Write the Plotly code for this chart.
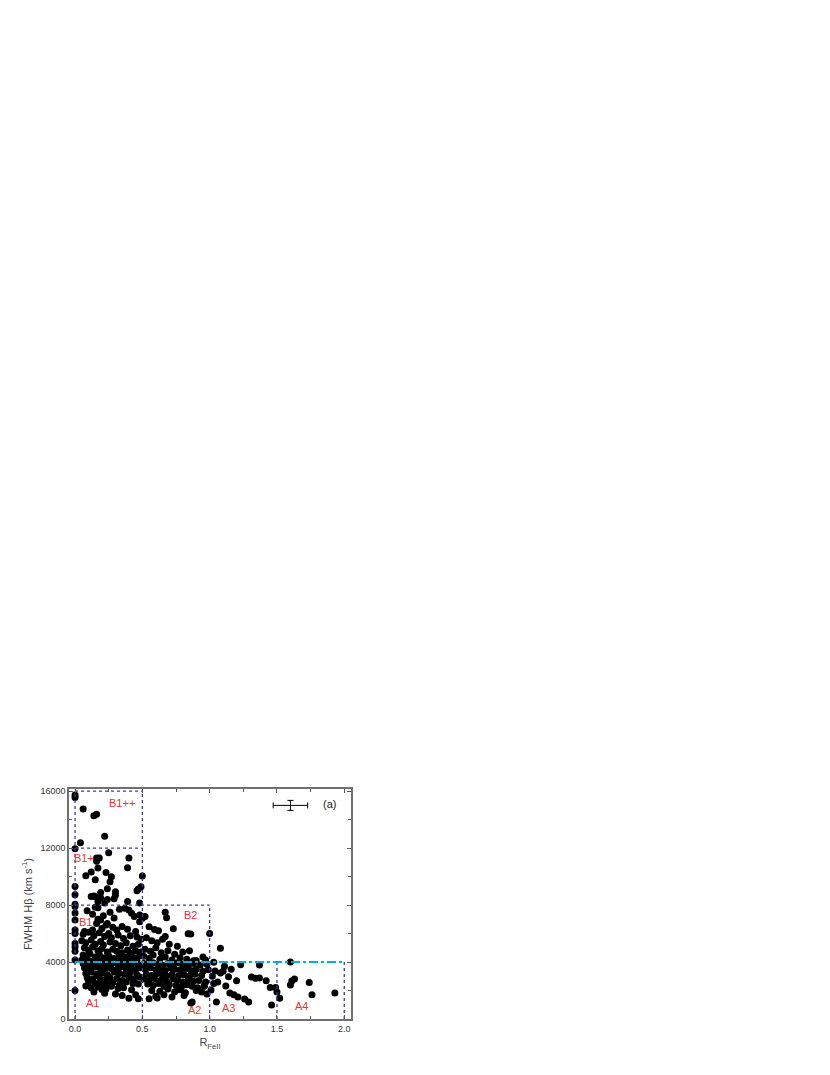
import plotly.graph_objects as go

# ---- data ----
# upper region (FWHM > 8000)
up_r = [0.00,0.00,0.06,0.14,0.16,0.04,0.22,0.00,0.25,0.16,0.18,0.16,0.40,0.17,0.12,0.23,0.39,0.08,0.27,0.50,0.15,0.26,0.00,0.49,0.47,0.46,0.24,0.19,0.30,0.30,0.29,0.00,0.12,0.15,0.19,0.24,0.00,0.14,0.17,0.22,0.39,0.48]
up_f = [15720,15550,14740,14270,14380,12370,12840,11950,11670,11300,11300,11070,11300,10600,10320,10290,10620,10060,9990,10040,9780,9640,9310,9290,9120,9000,9150,8890,8930,8690,8450,8720,8610,8590,8510,8390,8050,8630,8250,8150,8250,8150]

b1_r = [0.00,0.00,0.00,0.00,0.00,0.00,0.00,0.00,0.00,
        0.15,0.33,0.37,0.40,0.42,0.44,0.48,0.50,0.52,0.48,
        0.09,0.13,0.17,0.21,0.26,0.29,0.17,0.19,0.24,
        0.07,0.13,0.16,0.20,0.23,0.28,0.31,0.35,0.39,0.45,
        0.06,0.10,0.14,0.18,0.22,0.25,0.27,0.32,0.36,0.41,0.46,0.49,
        0.05,0.08,0.12,0.15,0.19,0.21,0.26,0.30,0.34,0.38,0.43,0.47,
        0.07,0.10,0.13,0.17,0.20,0.24,0.28,0.31,0.35,0.39,0.42,0.45,0.49,
        0.06,0.09,0.11,0.15,0.18,0.22,0.25,0.29,0.33,0.37,0.40,0.44,0.48,
        0.05,0.08,0.12,0.16,0.20,0.23,0.27,0.32,0.36,0.41,0.46]
b1_f = [7900,7450,6950,6250,6000,5300,5050,4750,4150,
        7840,7700,7770,7650,7420,7190,7300,7070,7190,6830,
        7600,7350,7820,7250,7500,7100,7000,6950,6700,
        6150,6250,6700,6350,6600,6450,6250,6500,6300,6150,
        5950,6100,5850,6050,5800,6000,5700,5900,5650,5850,5750,5600,
        5500,5350,5550,5250,5450,5200,5400,5300,5150,5350,5100,5250,
        5000,4850,5050,4800,4950,4700,4900,4750,4650,4850,4600,4800,4700,
        4500,4400,4600,4350,4550,4300,4450,4250,4500,4350,4400,4300,4450,
        4150,4200,4050,4250,4100,4150,4050,4200,4100,4050,4150]

a1_r = [0.00,0.08,0.20,0.20,0.40,0.47,
        0.06,0.10,0.14,0.17,0.21,0.25,0.28,0.32,0.36,0.39,0.43,0.47,
        0.07,0.11,0.15,0.19,0.23,0.27,0.30,0.34,0.38,0.42,0.45,0.49,
        0.08,0.12,0.16,0.21,0.24,0.29,0.33,0.37,0.41,0.46,
        0.09,0.13,0.18,0.22,0.26,0.31,0.35,0.40,0.44,0.48,
        0.10,0.15,0.19,0.24,0.28,0.33,0.38,0.43,0.47,
        0.12,0.17,0.23,0.27,0.32,0.36,0.42,
        0.14,0.22,0.30,0.35,0.45]
a1_f = [2000,2320,2080,2320,1450,1420,
        3900,3850,3950,3800,3900,3850,3950,3800,3900,3850,3950,3800,
        3600,3500,3650,3450,3600,3550,3400,3650,3500,3550,3450,3600,
        3200,3300,3150,3250,3100,3300,3200,3150,3250,3100,
        2900,2800,2950,2750,2900,2850,2700,2900,2800,2950,
        2600,2500,2650,2450,2550,2400,2600,2500,2450,
        2200,2250,2100,2300,2150,2200,2050,
        1900,1800,1750,1650,1700]

b2_r = [0.67,0.68,0.59,0.73,0.84,0.86,1.00,0.85,0.95,0.88,0.55,0.62,0.67,
        0.53,0.57,0.61,0.65,0.70,0.76,
        0.52,0.56,0.60,0.64,0.69,0.74,0.80,
        0.51,0.55,0.58,0.63,0.67,0.72,0.78,0.83,0.90,0.97]
b2_f = [7490,7110,6290,6340,5990,5960,6010,4800,4350,4090,6470,6200,5800,
        5700,5500,5350,5600,5250,5100,
        4900,4750,5000,4650,4800,4550,4700,
        4400,4250,4500,4200,4350,4150,4300,4200,4100,4150]

a2_r = [0.87,0.86,0.55,0.61,0.96,
        0.51,0.54,0.58,0.62,0.65,0.69,0.72,0.76,0.80,0.84,0.88,0.93,0.98,
        0.52,0.56,0.60,0.63,0.67,0.71,0.74,0.78,0.82,0.86,0.90,0.95,0.99,
        0.53,0.57,0.61,0.65,0.68,0.72,0.77,0.81,0.85,0.89,0.94,
        0.51,0.55,0.59,0.64,0.68,0.73,0.76,0.80,0.84,0.88,0.92,0.97,
        0.54,0.58,0.62,0.66,0.70,0.75,0.79,0.83,0.87,0.91,0.96,
        0.57,0.63,0.69,0.74,0.78,0.82,0.90,0.94,
        0.60,0.66,0.72,0.81,0.98]
a2_f = [1190,1120,1420,1480,2300,
        3900,3800,3950,3850,3750,3900,3800,3950,3850,3750,3900,3800,3850,
        3500,3600,3450,3550,3400,3600,3500,3450,3550,3400,3500,3350,3450,
        3150,3050,3200,3100,3000,3150,3050,3100,3000,3150,3050,
        2800,2700,2850,2750,2650,2800,2700,2600,2750,2650,2700,2600,
        2450,2350,2500,2300,2400,2350,2250,2400,2300,2200,2350,
        2000,1950,2100,1900,2050,1850,2000,1900,
        1600,1700,1550,1650,1750]

a34_r = [1.08,1.03,1.23,1.37,1.60,1.04,1.08,1.10,1.14,1.20,1.31,1.34,1.37,1.42,1.45,1.49,1.61,1.60,1.63,1.74,1.76,1.93,1.50,1.52,1.46,1.26,1.29,1.15,1.18,1.21,1.12,1.05,1.01,1.02,1.06,1.11,1.16,1.03]
a34_f = [4960,3980,3810,3790,4000,3370,3230,3350,2970,2690,2950,2870,2880,2690,2220,2220,2670,2380,2800,2570,1710,1820,1890,1450,980,1400,1190,1820,1710,1540,2320,1190,2040,3000,2600,3700,3500,2500]

# region boundaries (vertical: x, y-top ; horizontal: y, x-right)
v_edges_x = [0.0, 0.5, 1.0, 1.5, 2.0]
v_edges_top = [16000, 16000, 8000, 4000, 4000]
h_edges_y = [16000, 12000, 8000]
h_edges_xend = [0.5, 0.5, 1.0]
split_fwhm = 4000
split_xend = 2.0

# region labels
lab_text = ["B1++", "B1+", "B1", "B2", "A1", "A2", "A3", "A4"]
lab_x = [0.35, 0.07, 0.08, 0.86, 0.13, 0.89, 1.14, 1.68]
lab_y = [15150, 11300, 6800, 7300, 1150, 650, 780, 900]

# y tick labels
y_ticks = [0, 4000, 8000, 12000, 16000]
y_ticklabels = ["0", "4000", "8000", "12000", "16000"]

# typical error bar
err_x, err_y = 1.60, 15000
err_dx, err_dy = 0.128, 350

fig = go.Figure()

all_r = up_r + b1_r + a1_r + b2_r + a2_r + a34_r
all_f = up_f + b1_f + a1_f + b2_f + a2_f + a34_f
fig.add_trace(go.Scatter(x=all_r, y=all_f, mode="markers",
                         marker=dict(color="black", size=7, line=dict(width=0)),
                         showlegend=False))

box_col = "#3a3a9e"
for xv, top in zip(v_edges_x, v_edges_top):
    fig.add_trace(go.Scatter(x=[xv, xv], y=[0, top], mode="lines",
                             line=dict(color=box_col, width=1.3, dash="dot"),
                             showlegend=False, hoverinfo="skip"))
for yv, xe in zip(h_edges_y, h_edges_xend):
    fig.add_trace(go.Scatter(x=[0, xe], y=[yv, yv], mode="lines",
                             line=dict(color=box_col, width=1.3, dash="dot"),
                             showlegend=False, hoverinfo="skip"))
fig.add_trace(go.Scatter(x=[0, split_xend], y=[split_fwhm, split_fwhm], mode="lines",
                         line=dict(color="#10a8d8", width=2, dash="dashdot"),
                         showlegend=False, hoverinfo="skip"))

fig.add_trace(go.Scatter(x=[err_x], y=[err_y], mode="markers",
                         marker=dict(size=1, color="black"),
                         error_x=dict(type="constant", value=err_dx, color="black", thickness=1, width=3),
                         error_y=dict(type="constant", value=err_dy, color="black", thickness=1, width=3),
                         showlegend=False))

for t, xx, yy in zip(lab_text, lab_x, lab_y):
    fig.add_annotation(x=xx, y=yy, text=t, showarrow=False,
                       font=dict(color="#f03030", size=11, family="Liberation Sans"))
fig.add_annotation(x=1.89, y=15100, text="(a)", showarrow=False,
                   font=dict(color="#222", size=11, family="Liberation Sans"))

axis_common = dict(showline=True, linecolor="#707070", linewidth=1.5, mirror="allticks",
                   ticks="inside", ticklen=4, tickcolor="#555", tickwidth=1,
                   showgrid=False, zeroline=False, automargin=False,
                   tickfont=dict(size=9, color="#333", family="Liberation Sans"))

fig.update_xaxes(range=[-0.045, 2.05], tickvals=[0, 0.5, 1.0, 1.5, 2.0],
                 ticktext=["0.0", "0.5", "1.0", "1.5", "2.0"],
                 minor=dict(dtick=0.25, tick0=0, ticks="inside", ticklen=3, tickcolor="#555"),
                 title=dict(text="R<sub>FeII</sub>", font=dict(size=11, color="#444", family="Liberation Sans"), standoff=6),
                 **axis_common)
fig.update_yaxes(range=[0, 16150], tickvals=y_ticks, ticktext=y_ticklabels,
                 minor=dict(dtick=2000, tick0=0, ticks="inside", ticklen=3, tickcolor="#555"),
                 title=dict(text="FWHM Hβ (km s<sup>-1</sup>)", font=dict(size=11, color="#444", family="Liberation Sans"), standoff=6),
                 **axis_common)

fig.update_layout(width=830, height=1075, plot_bgcolor="white", paper_bgcolor="white",
                  margin=dict(l=61, r=487, t=781, b=64), showlegend=False)

fig.write_html("out.html")
